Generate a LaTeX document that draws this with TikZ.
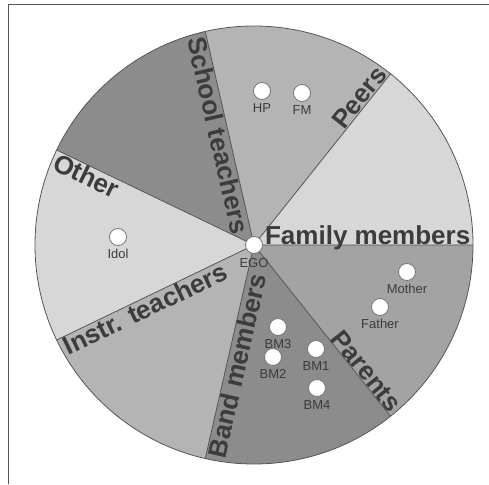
\documentclass[tikz,border=0pt]{standalone}
\usepackage{fontspec}
\setmainfont{Liberation Sans}
\usetikzlibrary{positioning}
\definecolor{meucinzaclaro}{RGB}{215,215,215}
\definecolor{meucinzamedio}{RGB}{180,180,180}
\definecolor{meucinzapais}{RGB}{163,163,163}
\definecolor{meucinzaescuro}{RGB}{140,140,140}
\definecolor{meucinzaborda}{RGB}{85,85,85}
\definecolor{meucinzatexto}{RGB}{60,60,60}

\begin{document}
\begin{tikzpicture}[
                x=1pt, y=1pt,
                divisa/.style={draw=meucinzaborda, line width=0.8pt},
                rotulo/.style={font=\bfseries\fontsize{26}{26}\selectfont, text=meucinzatexto,
                    inner sep=0.5pt, text depth=0pt},
                ponto/.style={circle, draw=meucinzaborda!80, fill=white, line width=0.8pt,
                    minimum size=17pt, inner sep=0pt},
                nome/.style={font=\fontsize{13}{13}\selectfont, text=meucinzatexto, inner sep=0pt}
            ]
                \useasboundingbox (-254,-239) rectangle (235,245);
                % setores
                \fill[meucinzaclaro]  (0,0) -- (0:219)      arc[start angle=0,      end angle=51.43,  radius=219pt] -- cycle;
                \fill[meucinzamedio]  (0,0) -- (51.43:219)  arc[start angle=51.43,  end angle=102.86, radius=219pt] -- cycle;
                \fill[meucinzaescuro] (0,0) -- (102.86:219) arc[start angle=102.86, end angle=154.29, radius=219pt] -- cycle;
                \fill[meucinzaclaro]  (0,0) -- (154.29:219) arc[start angle=154.29, end angle=205.71, radius=219pt] -- cycle;
                \fill[meucinzamedio]  (0,0) -- (205.71:219) arc[start angle=205.71, end angle=257.14, radius=219pt] -- cycle;
                \fill[meucinzaescuro] (0,0) -- (257.14:219) arc[start angle=257.14, end angle=308.57, radius=219pt] -- cycle;
                \fill[meucinzapais]   (0,0) -- (308.57:219) arc[start angle=308.57, end angle=360,    radius=219pt] -- cycle;
                \draw[divisa] (0,0) circle[radius=219pt];
                \draw[divisa] (0,0) -- (0:219)      (0,0) -- (51.43:219)  (0,0) -- (102.86:219)
                              (0,0) -- (154.29:219) (0,0) -- (205.71:219) (0,0) -- (257.14:219)
                              (0,0) -- (308.57:219);
                % moldura
                \draw[meucinzaborda, line width=1pt] (-245,-239) -- (-245,240) -- (235,240);
                % rotulos dos setores
                \node[rotulo, rotate=0,      anchor=south east] (familia) at (0:217)      {Family members};
                \node[rotulo, rotate=51.43,  anchor=south east] (pares)   at (51.43:217)  {Peers};
                \node[rotulo, rotate=-77.14, anchor=north west] (escola)  at (102.86:216) {School teachers};
                \node[rotulo, rotate=-25.71, anchor=north west] (outro)   at (154.29:216) {Other};
                \node[rotulo, rotate=25.71,  anchor=north west] (instr)   at (205.71:216) {Instr. teachers};
                \node[rotulo, rotate=77.14,  anchor=north west] (banda)   at (257.14:216) {Band members};
                \node[rotulo, rotate=-51.43, anchor=south east] (pais)    at (308.57:217) {Parents};
                % pessoas
                \node[ponto] (ego)    at (0,0)      {};
                \node[ponto] (hp)     at (8,154)    {};
                \node[ponto] (fm)     at (48,152)   {};
                \node[ponto] (idol)   at (-136,8)   {};
                \node[ponto] (mother) at (153,-27)  {};
                \node[ponto] (father) at (126,-62)  {};
                \node[ponto] (bm3)    at (24,-82)   {};
                \node[ponto] (bm2)    at (19,-112)  {};
                \node[ponto] (bm1)    at (62,-104)  {};
                \node[ponto] (bm4)    at (63,-143)  {};
                \node[nome] (egonome)    [below=4pt of ego]    {EGO};
                \node[nome] (hpnome)     [below=3pt of hp]     {HP};
                \node[nome] (fmnome)     [below=3pt of fm]     {FM};
                \node[nome] (idolnome)   [below=3pt of idol]   {Idol};
                \node[nome] (mothernome) [below=3pt of mother] {Mother};
                \node[nome] (fathernome) [below=3pt of father] {Father};
                \node[nome] (bm3nome)    [below=3pt of bm3]    {BM3};
                \node[nome] (bm2nome)    [below=3pt of bm2]    {BM2};
                \node[nome] (bm1nome)    [below=3pt of bm1]    {BM1};
                \node[nome] (bm4nome)    [below=3pt of bm4]    {BM4};
            \end{tikzpicture}
\end{document}
